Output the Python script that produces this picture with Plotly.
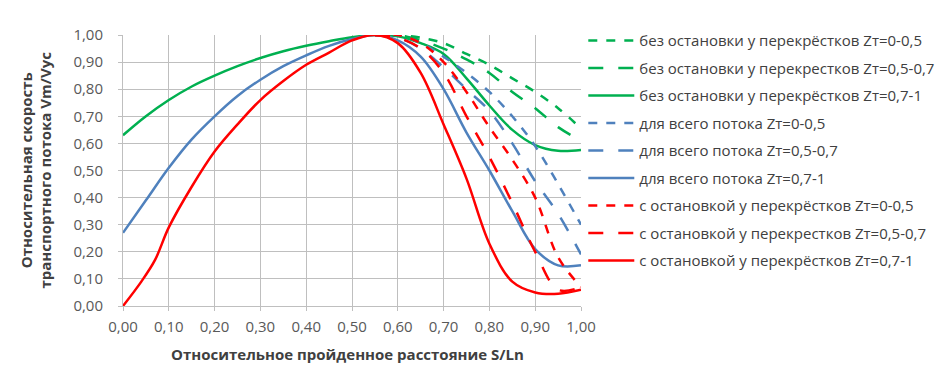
import plotly.graph_objects as go

# Solid curves (full range)
x_green = [0.00, 0.05, 0.10, 0.15, 0.20, 0.25, 0.30, 0.35, 0.40, 0.45, 0.50, 0.55,
           0.60, 0.65, 0.70, 0.75, 0.80, 0.85, 0.90, 0.95, 1.00]
green_solid = [0.63, 0.70, 0.76, 0.81, 0.85, 0.885, 0.915, 0.94, 0.96, 0.977, 0.992, 1.00,
               0.995, 0.97, 0.93, 0.84, 0.74, 0.65, 0.594, 0.573, 0.576]

x_blue = [0.00, 0.05, 0.10, 0.15, 0.20, 0.25, 0.30, 0.35, 0.40, 0.45, 0.50, 0.55,
          0.60, 0.65, 0.70, 0.75, 0.80, 0.85, 0.90, 0.95, 1.00]
blue_solid = [0.27, 0.39, 0.51, 0.615, 0.70, 0.775, 0.835, 0.885, 0.925, 0.96, 0.985, 1.00,
              0.98, 0.92, 0.80, 0.64, 0.50, 0.35, 0.21, 0.15, 0.15]

x_red = [0.00, 0.04, 0.07, 0.10, 0.15, 0.20, 0.25, 0.30, 0.35, 0.40, 0.45, 0.50, 0.55,
         0.60, 0.65, 0.70, 0.75, 0.80, 0.85, 0.90, 0.95, 1.00]
red_solid = [0.00, 0.09, 0.17, 0.29, 0.44, 0.57, 0.67, 0.76, 0.83, 0.89, 0.935, 0.98, 1.00,
             0.97, 0.86, 0.67, 0.47, 0.23, 0.09, 0.05, 0.045, 0.06]

# Dashed curves (diverge on the right part)
x_right = [0.55, 0.60, 0.65, 0.70, 0.75, 0.80, 0.85, 0.90, 0.95, 1.00]
green_short = [1.00, 1.00, 0.99, 0.97, 0.93, 0.89, 0.84, 0.79, 0.73, 0.655]
green_long = [1.00, 1.00, 0.98, 0.95, 0.91, 0.86, 0.79, 0.73, 0.66, 0.61]
blue_short = [1.00, 1.00, 0.97, 0.92, 0.86, 0.79, 0.70, 0.59, 0.45, 0.30]
blue_long = [1.00, 0.99, 0.95, 0.88, 0.80, 0.72, 0.60, 0.46, 0.34, 0.19]
red_short = [1.00, 1.00, 0.97, 0.90, 0.79, 0.66, 0.54, 0.40, 0.18, 0.07]
red_long = [1.00, 0.99, 0.95, 0.86, 0.70, 0.55, 0.38, 0.20, 0.06, 0.07]

x_ticks = [0.0, 0.1, 0.2, 0.3, 0.4, 0.5, 0.6, 0.7, 0.8, 0.9, 1.0]
y_ticks = [0.0, 0.1, 0.2, 0.3, 0.4, 0.5, 0.6, 0.7, 0.8, 0.9, 1.0]

x_title = "Относительное пройденное расстояние S/Ln"
y_title = "Относительная скорость<br>транспортного потока Vm/Vyc"

GREEN = "#00B050"
BLUE = "#4F81BD"
RED = "#FF0000"

series = [
    ("без остановки у перекрёстков Zт=0-0,5", x_right, green_short, GREEN, "dash"),
    ("без остановки у перекрестков Zт=0,5-0,7", x_right, green_long, GREEN, "longdash"),
    ("без остановки у перекрёстков Zт=0,7-1", x_green, green_solid, GREEN, "solid"),
    ("для всего потока Zт=0-0,5", x_right, blue_short, BLUE, "dash"),
    ("для всего потока Zт=0,5-0,7", x_right, blue_long, BLUE, "longdash"),
    ("для всего потока Zт=0,7-1", x_blue, blue_solid, BLUE, "solid"),
    ("с остановкой у перекрёстков Zт=0-0,5", x_right, red_short, RED, "dash"),
    ("с остановкой у перекрестков Zт=0,5-0,7", x_right, red_long, RED, "longdash"),
    ("с остановкой у перекрёстков Zт=0,7-1", x_red, red_solid, RED, "solid"),
]

fig = go.Figure()
for i, (name, xs, ys, col, dash) in enumerate(series):
    fig.add_trace(go.Scatter(
        x=xs, y=ys, name=name, mode="lines",
        line=dict(color=col, width=2.5, dash=dash, shape="spline", smoothing=1.0),
        legendgroup=f"g{i}",
    ))

FONT = "Open Sans"
fig.update_layout(
    width=946, height=369,
    margin=dict(l=115, r=373, t=27, b=71, autoexpand=False),
    paper_bgcolor="white", plot_bgcolor="white",
    separators=", ",
    font=dict(family=FONT, size=15, color="#595959"),
    showlegend=True,
    legend=dict(
        x=1.005, xanchor="left", y=1.04, yanchor="top",
        font=dict(family=FONT, size=15, color="#404040"),
        itemwidth=46, tracegroupgap=5, traceorder="grouped",
        bgcolor="rgba(0,0,0,0)", maxheight=1,
    ),
    xaxis=dict(
        range=[0, 1.0], tickvals=x_ticks, tickformat=".2f", automargin=False,
        showgrid=True, gridcolor="#BFBFBF", gridwidth=1,
        showline=True, linecolor="#BFBFBF", ticks="outside", ticklen=4, tickcolor="#BFBFBF",
        ticklabelstandoff=3, tickfont=dict(size=15),
        zeroline=False, mirror=False,
    ),
    yaxis=dict(
        range=[0, 1.0], tickvals=y_ticks, tickformat=".2f", automargin=False,
        showgrid=True, gridcolor="#BFBFBF", gridwidth=1,
        showline=True, linecolor="#BFBFBF", ticks="outside", ticklen=4, tickcolor="#BFBFBF",
        ticklabelstandoff=12, tickfont=dict(size=15),
        zeroline=False,
    ),
    annotations=[
        dict(text=f"<b>{x_title}</b>", xref="paper", yref="paper", x=0.49, y=0,
             yshift=-48, xanchor="center", yanchor="middle", showarrow=False,
             font=dict(family=FONT, size=15, color="#404040")),
        dict(text=f"<b>{y_title}</b>", xref="paper", yref="paper", x=0, y=0.5,
             xshift=-88, xanchor="center", yanchor="middle", showarrow=False, textangle=-90,
             font=dict(family=FONT, size=15, color="#404040")),
    ],
)

fig.write_html("out.html")
